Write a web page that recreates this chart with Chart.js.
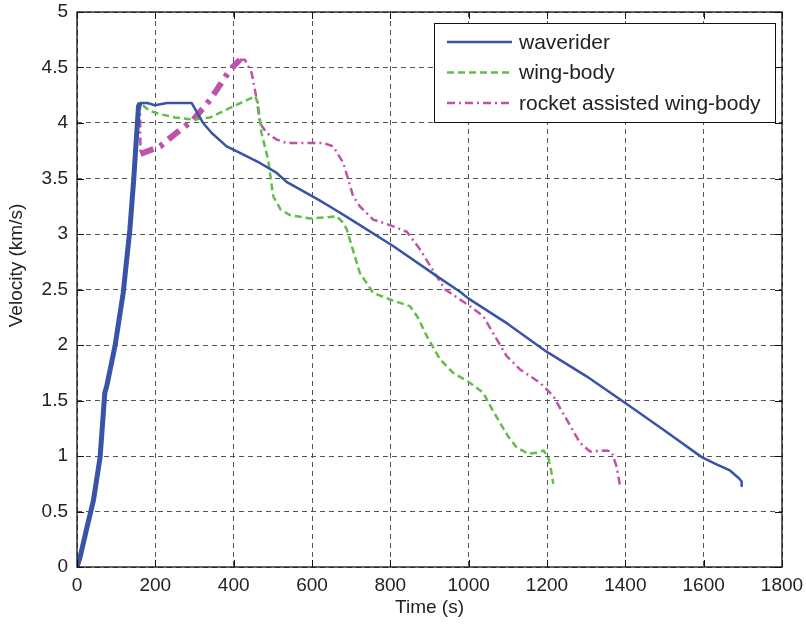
<!DOCTYPE html>
<html>
<head>
<meta charset="utf-8">
<script src="https://cdn.jsdelivr.net/npm/chart.js@4.4.1/dist/chart.umd.min.js"></script>
<style>
  html, body { margin: 0; padding: 0; background: #fff; }
</style>
</head>
<body>
<canvas id="velocity-chart" width="806" height="628"></canvas>
<script>
// shared boost phase (all three vehicles climb together)
const riseTime = [0, 8, 25, 42, 59, 71, 76, 97, 118, 135, 145, 149, 157, 161];
const riseVel  = [0, 0.09, 0.35, 0.6, 0.99, 1.57, 1.63, 1.99, 2.47, 3.04, 3.5, 3.72, 4.15, 4.18];

const waveriderTime = [180, 199, 230, 293, 322, 344, 382, 416, 467, 510, 535, 616, 654, 700, 808, 927, 978, 999, 1100, 1199, 1300, 1399, 1500, 1595, 1630, 1667, 1690, 1697, 1697];
const waveriderVel  = [4.18, 4.16, 4.18, 4.18, 4.0, 3.91, 3.79, 3.73, 3.64, 3.55, 3.47, 3.31, 3.23, 3.13, 2.89, 2.6, 2.48, 2.42, 2.19, 1.94, 1.72, 1.48, 1.23, 0.99, 0.93, 0.87, 0.8, 0.77, 0.73];

const wingBodyTime = [185, 212, 250, 297, 340, 399, 430, 455, 462, 471, 488, 501, 520, 544, 595, 640, 663, 680, 689, 705, 722, 756, 799, 850, 870, 893, 927, 960, 1003, 1037, 1060, 1080, 1100, 1122, 1152, 1175, 1191, 1203, 1210, 1216];
const wingBodyVel  = [4.11, 4.08, 4.05, 4.03, 4.05, 4.15, 4.2, 4.24, 4.18, 3.91, 3.67, 3.34, 3.22, 3.17, 3.14, 3.15, 3.16, 3.1, 3.04, 2.85, 2.65, 2.47, 2.41, 2.35, 2.25, 2.08, 1.87, 1.75, 1.66, 1.57, 1.42, 1.3, 1.18, 1.08, 1.02, 1.03, 1.05, 0.99, 0.88, 0.75];

const rocketTime = [162, 212, 250, 297, 340, 391, 416, 429, 446, 459, 467, 484, 510, 535, 629, 654, 680, 705, 722, 756, 799, 842, 876, 918, 940, 1003, 1037, 1097, 1131, 1182, 1216, 1250, 1284, 1310, 1352, 1365, 1378, 1386];
const rocketVel  = [3.72, 3.79, 3.9, 4.03, 4.21, 4.48, 4.57, 4.57, 4.45, 4.21, 4.0, 3.91, 3.85, 3.82, 3.82, 3.79, 3.64, 3.34, 3.25, 3.13, 3.08, 3.02, 2.86, 2.62, 2.5, 2.35, 2.26, 1.9, 1.78, 1.66, 1.54, 1.33, 1.12, 1.04, 1.05, 1.04, 0.9, 0.74];
const rocketBurnEnd = 416;

const xTicks = [0, 200, 400, 600, 800, 1000, 1200, 1400, 1600, 1800];
const yTicks = [0, 0.5, 1, 1.5, 2, 2.5, 3, 3.5, 4, 4.5, 5];

const seriesNames = ['waverider', 'wing-body', 'rocket assisted wing-body'];
const yTitle = 'Velocity (km/s)';

function toPoints(t, v) {
    return t.map((x, i) => ({ x: x, y: v[i] }));
}

const riseLen = riseTime.length;
const blueData = toPoints(riseTime.concat(waveriderTime), riseVel.concat(waveriderVel));
const greenData = toPoints(riseTime.concat(wingBodyTime), riseVel.concat(wingBodyVel));
const pinkData = toPoints(riseTime.concat(rocketTime), riseVel.concat(rocketVel));

const FONT = "'Liberation Sans', Arial, Helvetica, sans-serif";
const DASH_GREEN = [7, 4];
const DASH_PINK = [8, 4, 2, 4];

function rocketBurning(c) {
    return c.p0DataIndex >= riseLen && pinkData[c.p1DataIndex].x <= rocketBurnEnd;
}

// MATLAB style frame: box on all sides with inward ticks, plus the y title
const frameBox = {
    id: 'frameBox',
    afterDraw(chart) {
        const { ctx, chartArea: a, scales } = chart;
        ctx.save();
        ctx.strokeStyle = '#111';
        ctx.lineWidth = 1.3;
        ctx.setLineDash([]);
        ctx.strokeRect(a.left, a.top, a.right - a.left, a.bottom - a.top);
        ctx.lineWidth = 1;
        ctx.beginPath();
        xTicks.forEach(t => {
            const px = Math.round(scales.x.getPixelForValue(t)) + 0.5;
            ctx.moveTo(px, a.bottom); ctx.lineTo(px, a.bottom - 7);
            ctx.moveTo(px, a.top); ctx.lineTo(px, a.top + 7);
        });
        yTicks.forEach(t => {
            const py = Math.round(scales.y.getPixelForValue(t)) + 0.5;
            ctx.moveTo(a.left, py); ctx.lineTo(a.left + 7, py);
            ctx.moveTo(a.right, py); ctx.lineTo(a.right - 7, py);
        });
        ctx.stroke();

        // y title sits a little above the middle of the axis
        ctx.translate(17, (a.top + a.bottom) / 2 - 24);
        ctx.rotate(-Math.PI / 2);
        ctx.fillStyle = '#222';
        ctx.font = '19px ' + FONT;
        ctx.textAlign = 'center';
        ctx.textBaseline = 'middle';
        ctx.fillText(yTitle, 0, 0);
        ctx.restore();
    }
};

// legend box inside the top right corner
const legendBox = {
    id: 'legendBox',
    afterDraw(chart) {
        const { ctx, chartArea: a } = chart;
        const w = 341, h = 99;
        const x0 = a.right - 7 - w, y0 = a.top + 11;
        ctx.save();
        ctx.fillStyle = '#fff';
        ctx.fillRect(x0, y0, w, h);
        ctx.strokeStyle = '#111';
        ctx.lineWidth = 1;
        ctx.setLineDash([]);
        ctx.strokeRect(x0 + 0.5, y0 + 0.5, w, h);
        const dashes = [[], DASH_GREEN, DASH_PINK];
        chart.data.datasets.forEach((ds, i) => {
            const y = y0 + 19 + i * 30.5;
            ctx.strokeStyle = ds.borderColor;
            ctx.lineWidth = 2.5;
            ctx.setLineDash(dashes[i]);
            ctx.beginPath();
            ctx.moveTo(x0 + 13, y);
            ctx.lineTo(x0 + 78, y);
            ctx.stroke();
            ctx.fillStyle = '#222';
            ctx.font = '21px ' + FONT;
            ctx.textBaseline = 'middle';
            ctx.fillText(ds.label, x0 + 85, y + 1);
        });
        ctx.restore();
    }
};

new Chart(document.getElementById('velocity-chart'), {
    type: 'line',
    data: {
        datasets: [{
            label: seriesNames[0],
            data: blueData,
            borderColor: '#3953a6',
            borderWidth: 2.5,
            segment: {
                borderWidth: c => c.p1DataIndex < riseLen ? 5 : 2.5
            }
        }, {
            label: seriesNames[1],
            data: greenData,
            borderColor: '#62bf45',
            borderWidth: 2.5,
            borderDash: DASH_GREEN
        }, {
            label: seriesNames[2],
            data: pinkData,
            borderColor: '#c052ab',
            borderWidth: 2.5,
            borderDash: DASH_PINK,
            segment: {
                borderWidth: c => rocketBurning(c) ? 6 : 2.5,
                borderDash: c => rocketBurning(c) ? [14, 7, 4, 7] : DASH_PINK
            }
        }]
    },
    options: {
        responsive: false,
        animation: false,
        layout: { padding: { left: 0, top: 12, right: 24, bottom: 0 } },
        elements: {
            point: { radius: 0 },
            line: { tension: 0, borderJoinStyle: 'round' }
        },
        plugins: {
            legend: { display: false },
            tooltip: { enabled: false }
        },
        scales: {
            x: {
                type: 'linear',
                min: 0,
                max: 1800,
                afterBuildTicks: s => { s.ticks = xTicks.map(v => ({ value: v })); },
                afterFit: s => { s.height = 61; s.paddingLeft = 0; s.paddingRight = 0; },
                ticks: {
                    color: '#222',
                    font: { family: FONT, size: 19 },
                    padding: 7,
                    maxRotation: 0,
                    callback: v => String(v)
                },
                grid: { color: '#555', lineWidth: 1, drawTicks: false },
                border: { display: false, dash: [5, 4] },
                title: {
                    display: true,
                    text: 'Time (s)',
                    color: '#222',
                    font: { family: FONT, size: 19 },
                    padding: { top: 0, bottom: 9 }
                }
            },
            y: {
                type: 'linear',
                min: 0,
                max: 5,
                afterBuildTicks: s => { s.ticks = yTicks.map(v => ({ value: v })); },
                afterFit: s => { s.width = 77; s.paddingTop = 0; s.paddingBottom = 0; },
                ticks: {
                    color: '#222',
                    font: { family: FONT, size: 19 },
                    padding: 9,
                    callback: v => String(v)
                },
                grid: { color: '#555', lineWidth: 1, drawTicks: false },
                border: { display: false, dash: [5, 4] },
                title: { display: false }
            }
        }
    },
    plugins: [frameBox, legendBox]
});
</script>
</body>
</html>
